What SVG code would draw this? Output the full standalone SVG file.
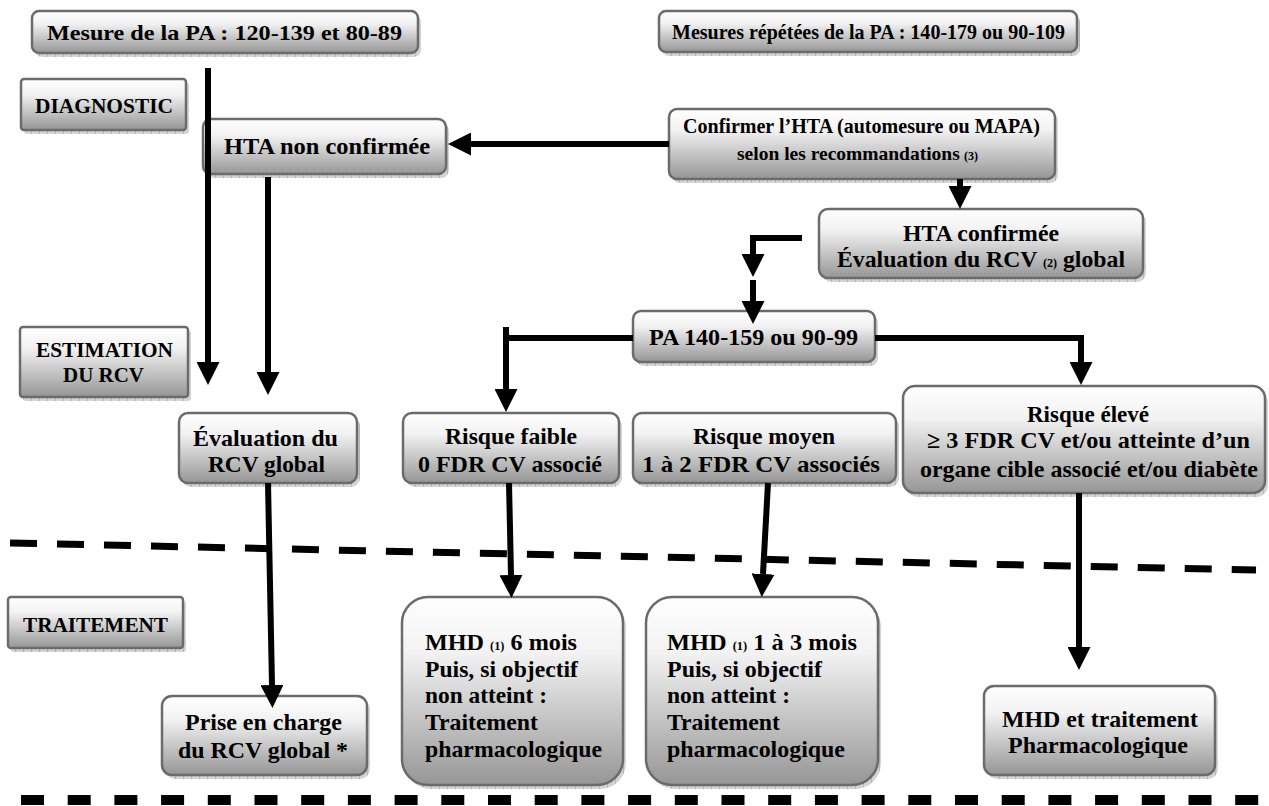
<svg xmlns="http://www.w3.org/2000/svg" width="1269" height="806" viewBox="0 0 1269 806">
  <defs>
    <linearGradient id="boxFill" x1="0" y1="0" x2="0" y2="1">
      <stop offset="0" stop-color="#ffffff"/>
      <stop offset="0.3" stop-color="#f2f2f2"/>
      <stop offset="1" stop-color="#969696"/>
    </linearGradient>
    <pattern id="shadowGrid" width="8" height="6" patternUnits="userSpaceOnUse">
      <rect width="8" height="6" fill="#d4d4d4"/>
      <rect x="7" width="1" height="6" fill="#b4b4b4"/>
    </pattern>
    <marker id="head" viewBox="0 0 10 10" refX="0" refY="5" markerWidth="23" markerHeight="23" markerUnits="userSpaceOnUse" orient="auto">
      <path d="M0,0 L10,5 L0,10 z" fill="#000"/>
    </marker>
    <style>
      .shadow { fill: url(#shadowGrid); }
      .box { fill: url(#boxFill); stroke: #6b6b6b; stroke-width: 2.5; }
      .t { font-size: 23.5px; }
      .s { font-size: 21px; }
      .m { font-size: 22px; }
      .n { font-size: 19.5px; }
      .sub { font-size: 12px; }
      .link { fill: none; stroke: #000; stroke-width: 6; }
      .arrow { marker-end: url(#head); }
      .sep { fill: none; stroke: #000; }
    </style>
  </defs>

  <rect width="1269" height="806" fill="#ffffff"/>

  <!-- section separators -->
  <g id="separators">
    <line class="sep" x1="10" y1="543" x2="1256" y2="570" stroke-width="7" stroke-dasharray="27 20"/>
    <line class="sep" x1="21" y1="800" x2="1262" y2="800" stroke-width="10" stroke-dasharray="23 23.7"/>
  </g>

  <g id="mesure-normale">
    <rect class="shadow" x="35" y="15" width="386" height="42" rx="7"/>
    <rect class="box" x="32" y="11" width="386" height="42" rx="7"/>
    <text class="s" font-family="Liberation Serif" font-weight="bold" x="47" y="40" textLength="355" lengthAdjust="spacingAndGlyphs">Mesure de la PA : 120-139 et 80-89</text>
  </g>

  <g id="mesures-repetees">
    <rect class="shadow" x="662" y="15" width="418" height="41" rx="7"/>
    <rect class="box" x="659" y="11" width="418" height="41" rx="7"/>
    <text class="s" font-family="Liberation Serif" font-weight="bold" x="672" y="39" textLength="393" lengthAdjust="spacingAndGlyphs">Mesures répétées de la PA : 140-179 ou 90-109</text>
  </g>

  <g id="etape-diagnostic">
    <rect class="shadow" x="24" y="83" width="165" height="51" rx="3"/>
    <rect class="box" x="21" y="79" width="165" height="51" rx="3"/>
    <text class="m" font-family="Liberation Serif" font-weight="bold" x="35" y="113" textLength="138" lengthAdjust="spacingAndGlyphs">DIAGNOSTIC</text>
  </g>

  <g id="hta-non-confirmee">
    <rect class="shadow" x="206" y="123" width="243" height="55" rx="8"/>
    <rect class="box" x="203" y="119" width="243" height="55" rx="8"/>
    <text class="t" font-family="Liberation Serif" font-weight="bold" x="224" y="154" textLength="206" lengthAdjust="spacingAndGlyphs">HTA non confirmée</text>
  </g>

  <g id="confirmer-hta">
    <rect class="shadow" x="672" y="113" width="386" height="70" rx="8"/>
    <rect class="box" x="669" y="109" width="386" height="70" rx="8"/>
    <text class="m" font-family="Liberation Serif" font-weight="bold" x="683" y="133" textLength="357" lengthAdjust="spacingAndGlyphs">Confirmer l’HTA (automesure ou MAPA)</text>
    <text class="n" font-family="Liberation Serif" font-weight="bold" x="737" y="160">selon les recommandations</text>
    <text class="sub" font-family="Liberation Serif" font-weight="bold" x="964" y="160">(3)</text>
  </g>

  <g id="hta-confirmee">
    <rect class="shadow" x="822" y="213" width="324" height="69" rx="9"/>
    <rect class="box" x="819" y="209" width="324" height="69" rx="9"/>
    <text class="t" font-family="Liberation Serif" font-weight="bold" x="903" y="241" textLength="156" lengthAdjust="spacingAndGlyphs">HTA confirmée</text>
    <text class="t" font-family="Liberation Serif" font-weight="bold" x="837" y="267" textLength="288" lengthAdjust="spacingAndGlyphs">Évaluation du RCV <tspan class="sub">(2)</tspan> global</text>
  </g>

  <g id="pa-grade1">
    <rect class="shadow" x="636" y="315" width="242" height="51" rx="8"/>
    <rect class="box" x="633" y="311" width="242" height="51" rx="8"/>
    <text class="t" font-family="Liberation Serif" font-weight="bold" x="649" y="345" textLength="209" lengthAdjust="spacingAndGlyphs">PA 140-159 ou 90-99</text>
  </g>

  <g id="etape-estimation">
    <rect class="shadow" x="23" y="331" width="168" height="70" rx="3"/>
    <rect class="box" x="20" y="327" width="168" height="70" rx="3"/>
    <text class="m" font-family="Liberation Serif" font-weight="bold" x="36" y="357" textLength="137" lengthAdjust="spacingAndGlyphs">ESTIMATION</text>
    <text class="m" font-family="Liberation Serif" font-weight="bold" x="63" y="382" textLength="81" lengthAdjust="spacingAndGlyphs">DU RCV</text>
  </g>

  <g id="evaluation-rcv">
    <rect class="shadow" x="182" y="417" width="178" height="70" rx="9"/>
    <rect class="box" x="179" y="413" width="178" height="70" rx="9"/>
    <text class="t" font-family="Liberation Serif" font-weight="bold" x="193" y="446" textLength="145" lengthAdjust="spacingAndGlyphs">Évaluation du</text>
    <text class="t" font-family="Liberation Serif" font-weight="bold" x="208" y="472" textLength="117" lengthAdjust="spacingAndGlyphs">RCV global</text>
  </g>

  <g id="risque-faible">
    <rect class="shadow" x="406" y="417" width="216" height="70" rx="9"/>
    <rect class="box" x="403" y="413" width="216" height="70" rx="9"/>
    <text class="t" font-family="Liberation Serif" font-weight="bold" x="445" y="444" textLength="132" lengthAdjust="spacingAndGlyphs">Risque faible</text>
    <text class="t" font-family="Liberation Serif" font-weight="bold" x="418" y="472" textLength="184" lengthAdjust="spacingAndGlyphs">0 FDR CV associé</text>
  </g>

  <g id="risque-moyen">
    <rect class="shadow" x="636" y="417" width="263" height="70" rx="9"/>
    <rect class="box" x="633" y="413" width="263" height="70" rx="9"/>
    <text class="t" font-family="Liberation Serif" font-weight="bold" x="693" y="444" textLength="142" lengthAdjust="spacingAndGlyphs">Risque moyen</text>
    <text class="t" font-family="Liberation Serif" font-weight="bold" x="642" y="472" textLength="238" lengthAdjust="spacingAndGlyphs">1 à 2 FDR CV associés</text>
  </g>

  <g id="risque-eleve">
    <rect class="shadow" x="906" y="390" width="362" height="107" rx="12"/>
    <rect class="box" x="903" y="386" width="362" height="107" rx="12"/>
    <text class="t" font-family="Liberation Serif" font-weight="bold" x="1027" y="422" textLength="122" lengthAdjust="spacingAndGlyphs">Risque élevé</text>
    <text class="t" font-family="Liberation Serif" font-weight="bold" x="927" y="448" textLength="323" lengthAdjust="spacingAndGlyphs">≥ 3 FDR CV et/ou atteinte d’un</text>
    <text class="t" font-family="Liberation Serif" font-weight="bold" x="920" y="477" textLength="338" lengthAdjust="spacingAndGlyphs">organe cible associé et/ou diabète</text>
  </g>

  <g id="etape-traitement">
    <rect class="shadow" x="11" y="601" width="175" height="51" rx="3"/>
    <rect class="box" x="8" y="597" width="175" height="51" rx="3"/>
    <text class="m" font-family="Liberation Serif" font-weight="bold" x="23" y="632" textLength="145" lengthAdjust="spacingAndGlyphs">TRAITEMENT</text>
  </g>

  <g id="prise-en-charge">
    <rect class="shadow" x="165" y="700" width="205" height="79" rx="10"/>
    <rect class="box" x="162" y="696" width="205" height="79" rx="10"/>
    <text class="t" font-family="Liberation Serif" font-weight="bold" x="185" y="730" textLength="157" lengthAdjust="spacingAndGlyphs">Prise en charge</text>
    <text class="t" font-family="Liberation Serif" font-weight="bold" x="178" y="758" textLength="170" lengthAdjust="spacingAndGlyphs">du RCV global *</text>
  </g>

  <g id="mhd-6-mois">
    <rect class="shadow" x="405" y="601" width="221" height="188" rx="26"/>
    <rect class="box" x="402" y="597" width="221" height="188" rx="26"/>
    <text class="t" font-family="Liberation Serif" font-weight="bold" x="425" y="650" textLength="152" lengthAdjust="spacingAndGlyphs">MHD <tspan class="sub">(1)</tspan> 6 mois</text>
    <text class="t" font-family="Liberation Serif" font-weight="bold" x="425" y="677" textLength="153" lengthAdjust="spacingAndGlyphs">Puis, si objectif</text>
    <text class="t" font-family="Liberation Serif" font-weight="bold" x="425" y="703" textLength="122" lengthAdjust="spacingAndGlyphs">non atteint :</text>
    <text class="t" font-family="Liberation Serif" font-weight="bold" x="425" y="730" textLength="113" lengthAdjust="spacingAndGlyphs">Traitement</text>
    <text class="t" font-family="Liberation Serif" font-weight="bold" x="425" y="757" textLength="177" lengthAdjust="spacingAndGlyphs">pharmacologique</text>
  </g>

  <g id="mhd-1-3-mois">
    <rect class="shadow" x="649" y="601" width="232" height="188" rx="26"/>
    <rect class="box" x="646" y="597" width="232" height="188" rx="26"/>
    <text class="t" font-family="Liberation Serif" font-weight="bold" x="667" y="650" textLength="190" lengthAdjust="spacingAndGlyphs">MHD <tspan class="sub">(1)</tspan> 1 à 3 mois</text>
    <text class="t" font-family="Liberation Serif" font-weight="bold" x="667" y="677" textLength="155" lengthAdjust="spacingAndGlyphs">Puis, si objectif</text>
    <text class="t" font-family="Liberation Serif" font-weight="bold" x="667" y="703" textLength="123" lengthAdjust="spacingAndGlyphs">non atteint :</text>
    <text class="t" font-family="Liberation Serif" font-weight="bold" x="667" y="730" textLength="113" lengthAdjust="spacingAndGlyphs">Traitement</text>
    <text class="t" font-family="Liberation Serif" font-weight="bold" x="667" y="757" textLength="178" lengthAdjust="spacingAndGlyphs">pharmacologique</text>
  </g>

  <g id="mhd-traitement">
    <rect class="shadow" x="987" y="690" width="231" height="89" rx="10"/>
    <rect class="box" x="984" y="686" width="231" height="89" rx="10"/>
    <text class="t" font-family="Liberation Serif" font-weight="bold" x="1002" y="727" textLength="196" lengthAdjust="spacingAndGlyphs">MHD et traitement</text>
    <text class="t" font-family="Liberation Serif" font-weight="bold" x="1008" y="753" textLength="180" lengthAdjust="spacingAndGlyphs">Pharmacologique</text>
  </g>

  <!-- connectors -->
  <g id="connectors">
    <path class="link arrow" d="M208,68 V362"/>
    <path class="link arrow" d="M268,177 V372"/>
    <path class="link arrow" d="M669,144 H471" stroke-width="7"/>
    <path class="link arrow" d="M960,179 V186"/>
    <path class="link arrow" d="M802,238 H753 V254"/>
    <path class="link arrow" d="M753,280 V301"/>
    <path class="link" d="M633,338 H506"/>
    <path class="link arrow" d="M506,327 V389"/>
    <path class="link arrow" d="M875,338 H1081 V362"/>
    <path class="link arrow" d="M268,483 L272,685"/>
    <path class="link arrow" d="M509,483 L511,575"/>
    <path class="link arrow" d="M768,483 L763,574"/>
    <path class="link arrow" d="M1079,493 V647"/>
  </g>
</svg>
